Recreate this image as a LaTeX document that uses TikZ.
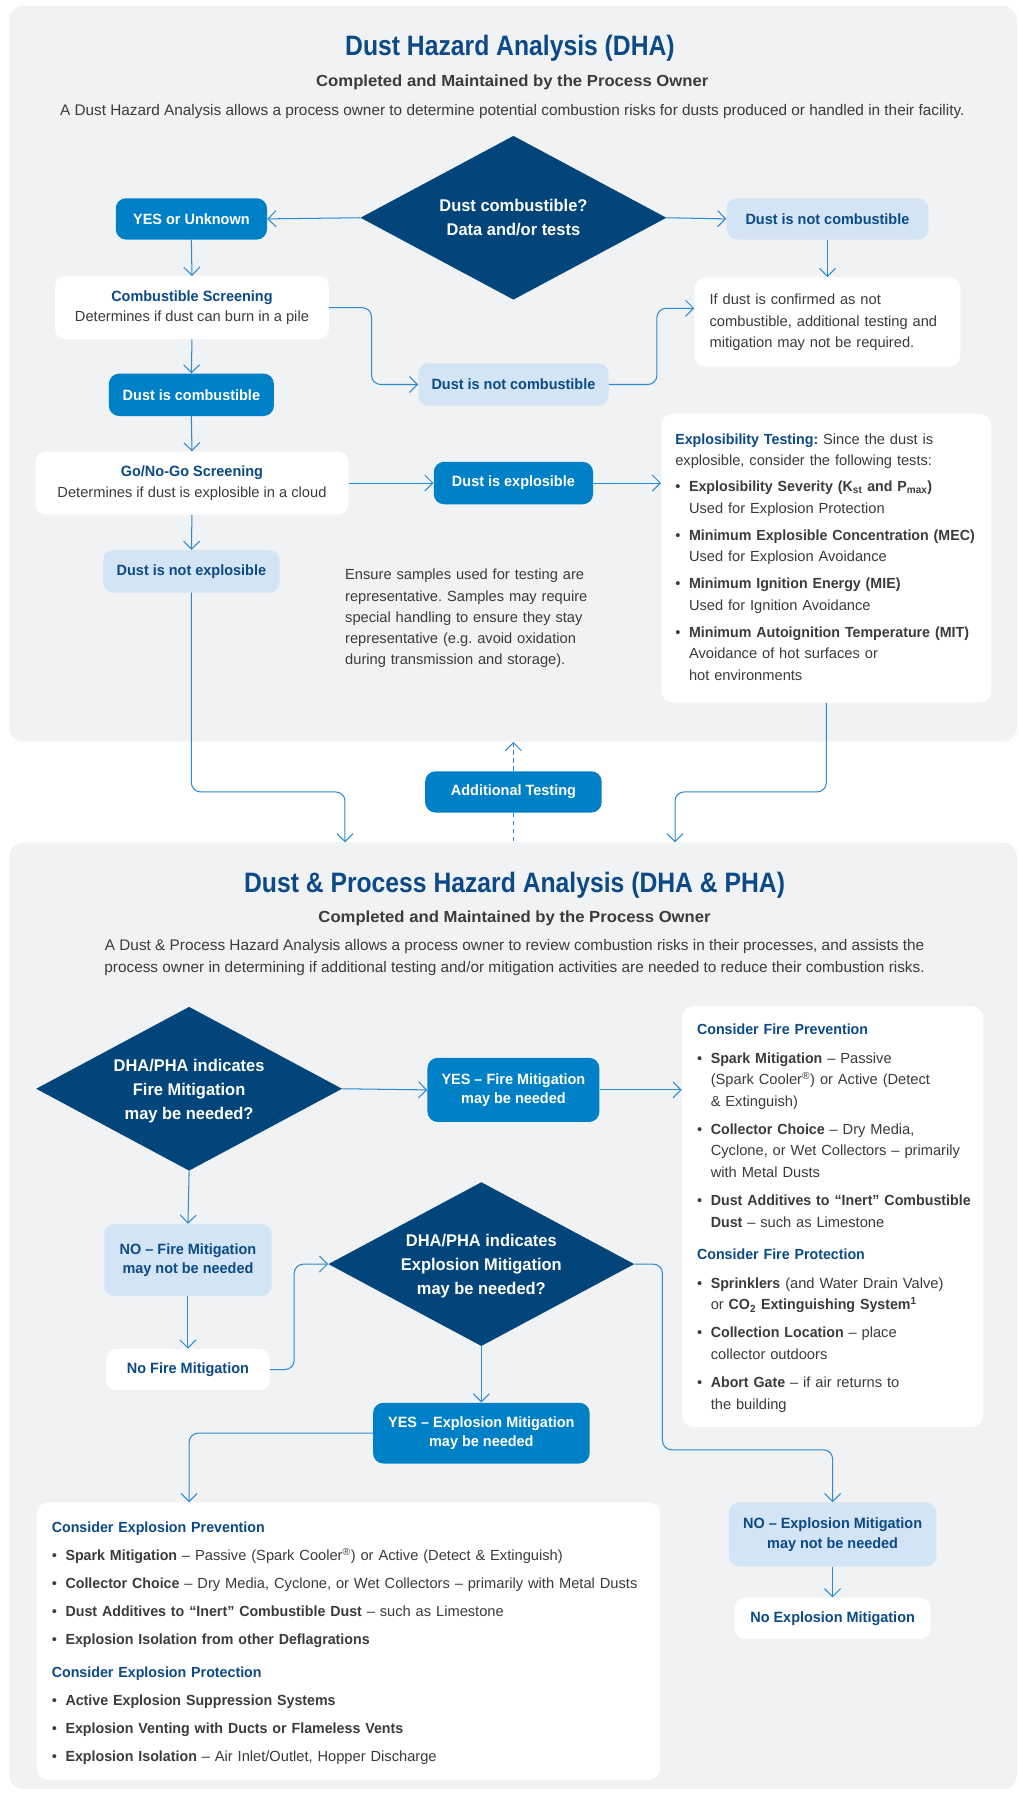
\documentclass[tikz,border=0pt]{standalone}
\usepackage{fontspec}
\setmainfont{Liberation Sans}[BoldFeatures={FakeStretch=0.97}]
\newfontfamily\titlef{Liberation Sans}[FakeStretch=0.88]
\newfontfamily\subf{Liberation Sans}[FakeStretch=1.04]
\usetikzlibrary{shapes.geometric,arrows.meta,calc}
\definecolor{panelc}{HTML}{F0F2F4}
\definecolor{navy}{HTML}{01457A}
\definecolor{midb}{HTML}{0080C6}
\definecolor{lightb}{HTML}{D3E4F4}
\definecolor{ttl}{HTML}{0B4A86}
\definecolor{gtxt}{HTML}{3B3B3B}
\definecolor{arrc}{HTML}{2A8AD2}
\newcommand\bi{\makebox[12pt][l]{\mdseries\textbullet}}
\newcommand\ind{\hspace*{12pt}}
\frenchspacing
\begin{document}
\begin{tikzpicture}[x=1pt,y=-1pt,
  lab/.style={rounded corners=9pt, inner sep=0pt, align=center, font=\bfseries\fontsize{13}{17}\selectfont},
  mid/.style={lab, fill=midb, text=white},
  lgt/.style={lab, fill=lightb, text=ttl},
  wht/.style={lab, fill=white, text=ttl},
  card/.style={fill=white, rounded corners=10pt, inner sep=0pt},
  cardtext/.style={anchor=west, inner sep=0pt, align=left, text width=560pt, font=\fontsize{12.8}{18.7}\selectfont, text=gtxt},
  body/.style={font=\fontsize{12.8}{18.4}\selectfont, text=gtxt},
  desc/.style={font=\fontsize{13.4}{19}\selectfont, text=gtxt},
  panel/.style={fill=panelc, rounded corners=12pt, inner sep=0pt, anchor=north west},
  dia/.style={diamond, fill=navy, inner sep=0pt, aspect=1.87, minimum width=267pt, minimum height=143pt},
  diatext/.style={text=white, align=center, inner sep=0pt, font=\bfseries\fontsize{14.8}{21}\selectfont},
  arr/.style={draw=arrc, line width=0.9pt, rounded corners=8pt, -{Straight Barb[length=7pt,width=14pt]}},
  ttlstyle/.style={text=ttl, font=\titlef\bfseries\fontsize{24.5}{28}\selectfont},
  substyle/.style={text=gtxt, font=\subf\bfseries\fontsize{14}{17}\selectfont}
]
\useasboundingbox (0,0) rectangle (889,1568);
\fill[white] (0,0) rectangle (889,1568);
% panels
\node[panel, minimum width=879pt, minimum height=642pt] (p1) at (8,5) {};
\node[panel, minimum width=879pt, minimum height=826pt] (p2) at (8,735) {};

% ---------- panel 1 ----------
\node[ttlstyle] (t1) at (445,42) {Dust Hazard Analysis (DHA)};
\node[substyle] (s1) at (447,72) {Completed and Maintained by the Process Owner};
\node[desc] (de1) at (447,97) {A Dust Hazard Analysis allows a process owner to determine potential combustion risks for dusts produced or handled in their facility.};

\node[dia] (d1) at (448,190) {};
\node[diatext] (d1t) at (d1.center) {Dust combustible?\\Data and/or tests};
\node[mid, minimum width=132pt, minimum height=36pt] (yes) at (167,191) {YES or Unknown};
\node[lgt, minimum width=176pt, minimum height=36pt] (nc1) at (722,191) {Dust is not combustible};
\node[wht, minimum width=239pt, minimum height=55pt] (cs) at (167.5,268.5) {Combustible Screening\\[1pt]{\mdseries\color{gtxt}\fontsize{12.8}{17}\selectfont Determines if dust can burn in a pile}};
\node[card, minimum width=232pt, minimum height=78pt] (ifd) at (722,281) {};
\node[cardtext] (ifdt) at (619,281.5) {If dust is confirmed as not\\combustible, additional testing and\\mitigation may not be required.};
\node[lgt, minimum width=166pt, minimum height=37pt] (nc2) at (448,335.5) {Dust is not combustible};
\node[mid, minimum width=144pt, minimum height=37pt] (comb) at (167,344.5) {Dust is combustible};
\node[wht, minimum width=273pt, minimum height=55pt] (gng) at (167.5,421.5) {Go/No-Go Screening\\[1pt]{\mdseries\color{gtxt}\fontsize{12.8}{17}\selectfont Determines if dust is explosible in a cloud}};
\node[mid, minimum width=139pt, minimum height=37pt] (expl) at (448,421.5) {Dust is explosible};
\node[card, minimum width=288pt, minimum height=252pt] (et) at (721,487) {};
\node[cardtext] (ett) at (589,486) {{\bfseries\color{ttl}Explosibility Testing:} Since the dust is\\
explosible, consider the following tests:\\[4pt]
\bi\textbf{Explosibility Severity (K\textsubscript{st} and P\textsubscript{max})}\\
\ind Used for Explosion Protection\\[5pt]
\bi\textbf{Minimum Explosible Concentration (MEC)}\\
\ind Used for Explosion Avoidance\\[5pt]
\bi\textbf{Minimum Ignition Energy (MIE)}\\
\ind Used for Ignition Avoidance\\[5pt]
\bi\textbf{Minimum Autoignition Temperature (MIT)}\\
\ind Avoidance of hot surfaces or\\
\ind hot environments};
\node[lgt, minimum width=154pt, minimum height=37pt] (nexp) at (167,498.5) {Dust is not explosible};
\node[body, anchor=west, text width=260pt, align=left, inner sep=0pt] (note) at (301,539.5) {Ensure samples used for testing are\\representative. Samples may require\\special handling to ensure they stay\\representative (e.g. avoid oxidation\\during transmission and storage).};
\node[mid, minimum width=154pt, minimum height=36pt] (at) at (448,691) {Additional Testing};
\coordinate (jL) at (301,691);
\coordinate (jR) at (589,691);

% ---------- panel 2 ----------
\node[ttlstyle] (t2) at (449,772) {Dust \& Process Hazard Analysis (DHA \& PHA)};
\node[substyle] (s2) at (449,801) {Completed and Maintained by the Process Owner};
\node[desc, align=center] (de2) at (449,835.5) {A Dust \& Process Hazard Analysis allows a process owner to review combustion risks in their processes, and assists the\\process owner in determining if additional testing and/or mitigation activities are needed to reduce their combustion risks.};

\node[dia] (d2) at (165,950) {};
\node[diatext] (d2t) at (165,952) {DHA/PHA indicates\\Fire Mitigation\\may be needed?};
\node[mid, minimum width=150pt, minimum height=56pt] (yf) at (448,951) {YES – Fire Mitigation\\may be needed};
\node[card, minimum width=263pt, minimum height=367pt] (fp) at (726.5,1061.5) {};
\node[cardtext] (fpt) at (608,1063) {{\bfseries\color{ttl}Consider Fire Prevention}\\[6pt]
\bi\textbf{Spark Mitigation} – Passive\\
\ind(Spark Cooler\textsuperscript{®}) or Active (Detect\\
\ind\& Extinguish)\\[6pt]
\bi\textbf{Collector Choice} – Dry Media,\\
\ind Cyclone, or Wet Collectors – primarily\\
\ind with Metal Dusts\\[6pt]
\bi\textbf{Dust Additives to “Inert” Combustible}\\
\ind\textbf{Dust} – such as Limestone\\[10pt]
{\bfseries\color{ttl}Consider Fire Protection}\\[6pt]
\bi\textbf{Sprinklers} (and Water Drain Valve)\\
\ind or \textbf{CO\textsubscript{2} Extinguishing System\textsuperscript{1}}\\[6pt]
\bi\textbf{Collection Location} – place\\
\ind collector outdoors\\[6pt]
\bi\textbf{Abort Gate} – if air returns to\\
\ind the building};
\node[lgt, minimum width=146pt, minimum height=63pt] (nf) at (164,1099.5) {NO – Fire Mitigation\\may not be needed};
\node[wht, minimum width=143pt, minimum height=36pt] (nofire) at (164,1195) {No Fire Mitigation};
\node[dia] (d3) at (420,1103) {};
\node[diatext] (d3t) at (420,1105) {DHA/PHA indicates\\Explosion Mitigation\\may be needed?};
\node[mid, minimum width=189pt, minimum height=53pt] (ye) at (420,1250.5) {YES – Explosion Mitigation\\may be needed};
\node[card, minimum width=544pt, minimum height=242pt] (ep) at (304,1432) {};
\node[cardtext] (ept) at (45,1434) {{\bfseries\color{ttl}Consider Explosion Prevention}\\[5pt]
\bi\textbf{Spark Mitigation} – Passive (Spark Cooler\textsuperscript{®}) or Active (Detect \& Extinguish)\\[6pt]
\bi\textbf{Collector Choice} – Dry Media, Cyclone, or Wet Collectors – primarily with Metal Dusts\\[6pt]
\bi\textbf{Dust Additives to “Inert” Combustible Dust} – such as Limestone\\[6pt]
\bi\textbf{Explosion Isolation from other Deflagrations}\\[10pt]
{\bfseries\color{ttl}Consider Explosion Protection}\\[5pt]
\bi\textbf{Active Explosion Suppression Systems}\\[6pt]
\bi\textbf{Explosion Venting with Ducts or Flameless Vents}\\[6pt]
\bi\textbf{Explosion Isolation} – Air Inlet/Outlet, Hopper Discharge};
\node[lgt, minimum width=181pt, minimum height=56pt] (ne) at (726.5,1339) {NO – Explosion Mitigation\\may not be needed};
\node[wht, minimum width=171pt, minimum height=36pt] (nem) at (726.5,1412) {No Explosion Mitigation};
\coordinate (jE) at (578,1265);

% ---------- connectors ----------
\draw[arr] (d1.west) -- (yes.east);
\draw[arr] (d1.east) -- (nc1.west);
\draw[arr] (yes.south) -- (cs.north);
\draw[arr] (nc1.south) -- (ifd.north);
\draw[arr] (cs.east) -- ++(37,0) |- (nc2.west);
\draw[arr] (nc2.east) -- ++(42,0) |- ([yshift=12pt]ifd.west);
\draw[arr] (cs.south) -- (comb.north);
\draw[arr] (comb.south) -- (gng.north);
\draw[arr] (gng.east) -- (expl.west);
\draw[arr] (expl.east) -- (expl.east -| et.west);
\draw[arr] (gng.south) -- (nexp.north);
\draw[arr] (nexp.south) |- (jL) -- (jL |- p2.north);
\draw[arr] (et.south) |- (jR) -- (jR |- p2.north);
\draw[arr, dash pattern=on 4pt off 3pt] (at.north) -- (at.north |- p1.south);
\draw[draw=arrc, line width=0.9pt, dash pattern=on 4pt off 3pt] (at.south) -- (at.south |- p2.north);

\draw[arr] (d2.east) -- (yf.west);
\draw[arr] (yf.east) -- (yf.east -| fp.west);
\draw[arr] (d2.south) -- (nf.north);
\draw[arr] (nf.south) -- (nofire.north);
\draw[arr] (nofire.east) -- ++(21,0) |- (d3.west);
\draw[arr] (d3.south) -- (ye.north);
\draw[arr] (ye.west) -| ([xshift=-139pt]ep.north);
\draw[arr] (d3.east) -| (jE) -| (ne.north);
\draw[arr] (ne.south) -- (nem.north);
\end{tikzpicture}
\end{document}
